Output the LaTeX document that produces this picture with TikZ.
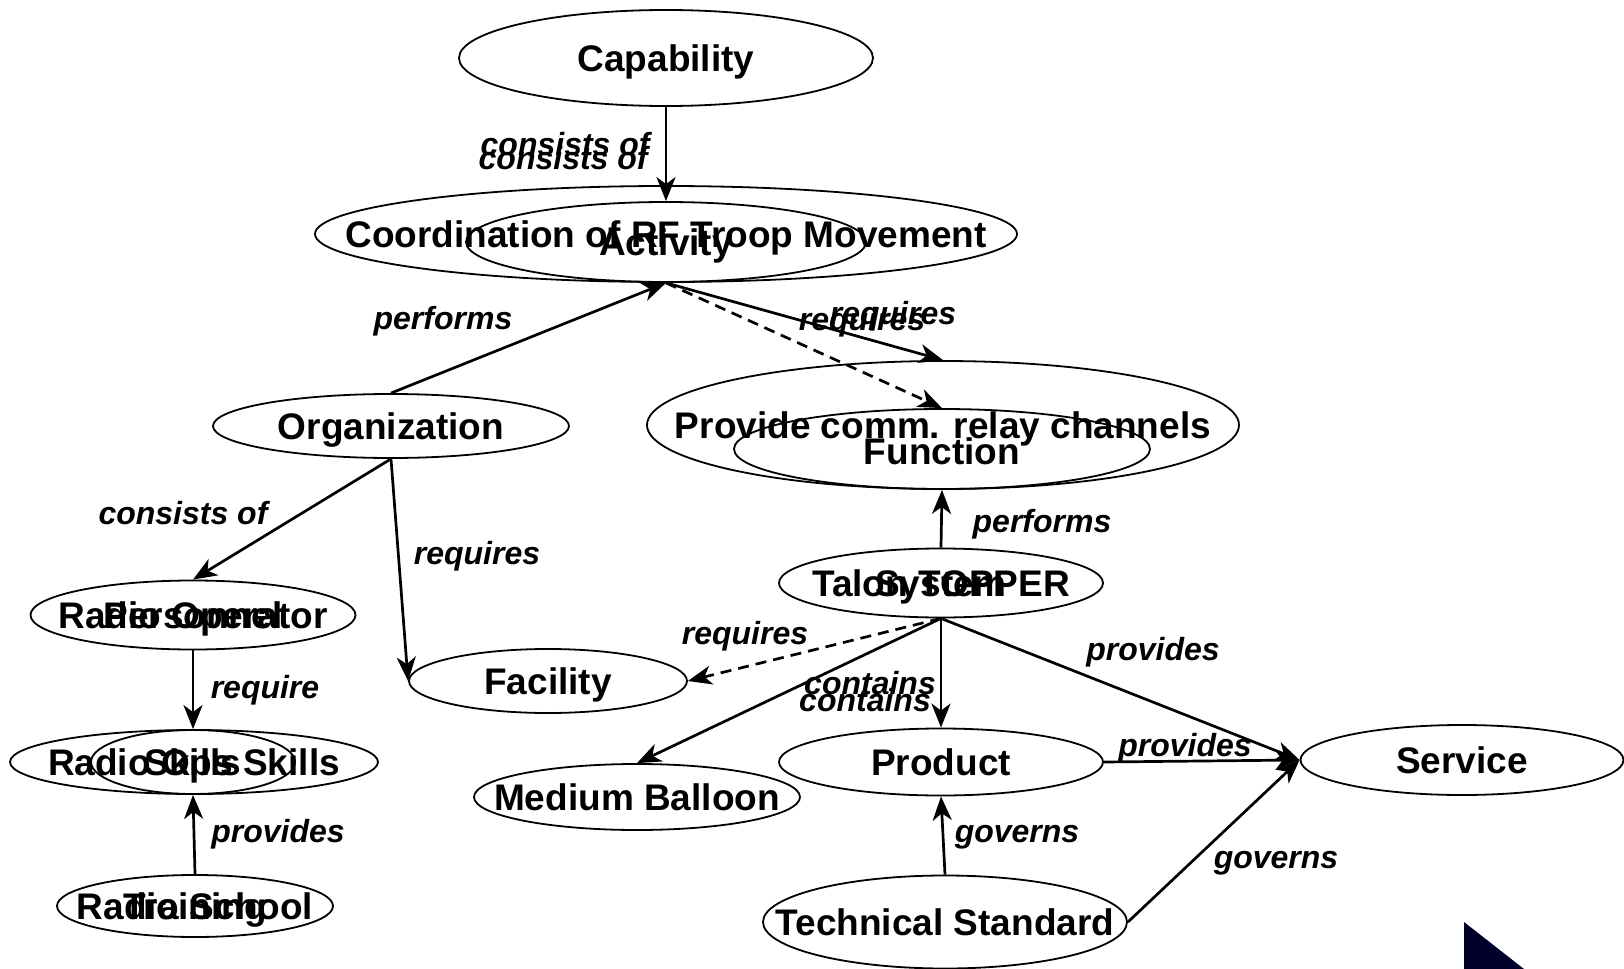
\documentclass[tikz,border=0pt]{standalone}
\usepackage{fontspec}
\setmainfont{Liberation Sans}
\usetikzlibrary{shapes.geometric,arrows.meta}
\newcommand{\ovaltext}[1]{\makebox[0pt]{#1}}
\definecolor{cornernavy}{RGB}{0,0,40}
\tikzset{
  oval/.style 2 args={draw, ellipse, line width=0.9pt, inner sep=0pt,
    minimum width=#1, minimum height=#2, text height=13pt, text depth=0pt,
    font=\fontsize{18.5}{20}\selectfont\bfseries},
  word/.style={inner sep=0pt, text height=13pt, text depth=0pt,
    font=\fontsize{18.5}{20}\selectfont\bfseries},
  rel/.style={inner sep=0pt, font=\fontsize{16}{18}\selectfont\bfseries\itshape},
  arr/.style={line width=1.35pt, -{Stealth[length=12pt,width=9.5pt,inset=3.5pt]}},
  dashline/.style={dash pattern=on 5.5pt off 3.5pt}
}
\begin{document}
\begin{tikzpicture}[x=0.5pt,y=-0.5pt]
\useasboundingbox (0,0) rectangle (1624,969);
% ellipses
\node[oval={207pt}{48pt}] (cap) at (666,58) {Capability};
\node[oval={351pt}{48pt}] (coord) at (666,234) {\ovaltext{Coordination of RF Troop Movement}};
\node[oval={200pt}{40pt}] (act) at (666,242) {\ovaltext{Activity}};
\node[oval={178pt}{32pt}] (org) at (391,426) {\ovaltext{Organization}};
\node[oval={296pt}{64pt}] (prov) at (943,425) {\ovaltext{Provide comm. relay channels}};
\node[oval={208pt}{40pt}] (func) at (942,449) {};
\node[word] (funcT) at (942,451) {Function};
\node[oval={162pt}{34.5pt}] (sys) at (941,583) {\ovaltext{Talon TOPPER}};
\node[word] (sysT) at (sys) {System};
\node[oval={162.5pt}{34.5pt}] (pers) at (193,615) {\ovaltext{Radio Operator}};
\node[word] (persT) at (pers) {Personnel};
\node[oval={139pt}{32pt}] (fac) at (548,681) {Facility};
\node[oval={184pt}{32pt}] (skillO) at (194,762) {\ovaltext{Radio Ops Skills}};
\node[oval={102pt}{32pt}] (skill) at (193,762) {\ovaltext{Skills}};
\node[oval={138pt}{31pt}] (train) at (195,906) {\ovaltext{Radio School}};
\node[word] (trainT) at (train) {Training};
\node[oval={163pt}{33pt}] (ball) at (637,797) {\ovaltext{Medium Balloon}};
\node[oval={162pt}{33.5pt}] (prod) at (941,762) {Product};
\node[oval={161.5pt}{35pt}] (serv) at (1462,760) {Service};
\node[oval={182pt}{46.5pt}] (tech) at (945,922) {\ovaltext{Technical Standard}};
% connectors
\draw[arr] (cap.south) -- (act.north);
\draw[arr] (org.north) -- (act.south);
\draw[arr] (act.south) -- (prov.north);
\draw[arr,dashline] (act.south) -- (func.north);
\draw[arr] (org.south) -- (pers.north);
\draw[arr] (org.south) -- (fac.west);
\draw[arr] (sys.north) -- (func.south);
\draw[arr,dashline] (sys.south) -- (fac.east);
\draw[arr] (pers.south) -- (skill.north);
\draw[arr] (train.north) -- (skill.south);
\draw[arr] (sys.south) -- (ball.north);
\draw[arr] (sys.south) -- (prod.north);
\draw[arr] (sys.south) -- (serv.west);
\draw[arr] (prod.east) -- (serv.west);
\draw[arr] (tech.north) -- (prod.south);
\draw[arr] (tech.east) -- (serv.west);
% relation labels
\node[rel,anchor=east] (consA) at (650,144) {consists of};
\node[rel,anchor=east] (consB) at (648,158) {consists of};
\node[rel] (perfA) at (443,321) {performs};
\node[rel] (reqA) at (893,316) {requires};
\node[rel] (reqB) at (862,322) {requires};
\node[rel] (perfB) at (1042,524) {performs};
\node[rel] (consC) at (183,513) {consists of};
\node[rel] (reqC) at (477,556) {requires};
\node[rel] (reqD) at (745,636) {requires};
\node[rel] (reqE) at (265,690) {require};
\node[rel] (provA) at (278,834) {provides};
\node[rel] (contA) at (870,683) {contains};
\node[rel] (contB) at (865,700) {contains};
\node[rel] (provB) at (1153,652) {provides};
\node[rel] (provC) at (1185,748) {provides};
\node[rel] (govA) at (1017,837) {governs};
\node[rel] (govB) at (1276,863) {governs};
% corner mark
\fill[cornernavy] (1464,922) -- (1464,969) -- (1524,969) -- cycle;
\end{tikzpicture}
\end{document}
